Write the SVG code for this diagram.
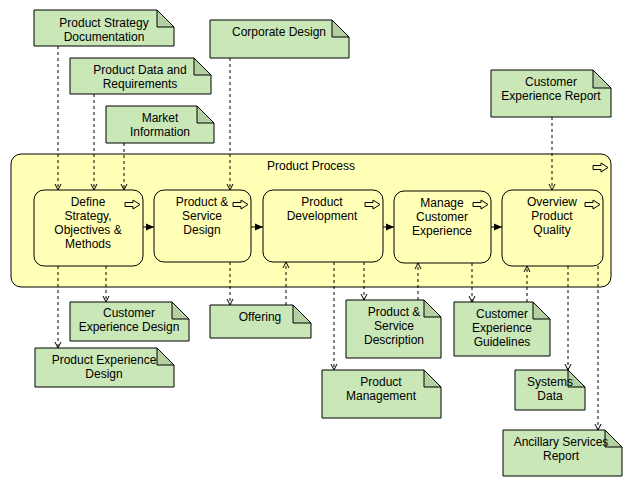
<svg xmlns="http://www.w3.org/2000/svg" xmlns:xlink="http://www.w3.org/1999/xlink" width="632" height="487" viewBox="0 0 632 487">
<style>
text{font-family:"Liberation Sans",Arial,sans-serif;font-size:12px;fill:#000;text-anchor:middle}
.note{fill:#c9e7b7;stroke:#000;stroke-width:1}
.fold{fill:#b4cfa2;stroke:#000;stroke-width:1}
.proc{fill:#ffffb5;stroke:#000;stroke-width:1}
.dash{fill:none;stroke:#000;stroke-width:1;stroke-dasharray:3,3;marker-end:url(#open)}
.flow{fill:none;stroke:#000;stroke-width:1;marker-end:url(#filled)}
.icon{fill:none;stroke:#000;stroke-width:1}
</style>
<defs>
<marker id="open" viewBox="0 0 8 8" refX="7" refY="4" markerWidth="8" markerHeight="8" markerUnits="userSpaceOnUse" orient="auto">
<path d="M1,1 L7,4 L1,7" fill="none" stroke="#000" stroke-width="1"/>
</marker>
<marker id="filled" viewBox="0 0 8 8" refX="8" refY="4" markerWidth="8" markerHeight="8" markerUnits="userSpaceOnUse" orient="auto">
<path d="M0,0.5 L8,4 L0,7.5 Z" fill="#000"/>
</marker>
<path id="picon" class="icon" d="M0,2.5 H8 V0 L15,4.5 L8,9 V6.5 H0 Z"/>
</defs>
<rect width="632" height="487" fill="#fff"/>

<g id="product-process">
<rect class="proc" x="11" y="154" width="600" height="133" rx="10"/>
<text x="311" y="170">Product Process</text>
<use xlink:href="#picon" x="593" y="163"/>
</g>

<g id="define-strategy">
<rect class="proc" x="34" y="190" width="109" height="76" rx="10"/>
<text x="88" y="206">Define</text>
<text x="88" y="220">Strategy,</text>
<text x="88" y="234">Objectives &amp;</text>
<text x="88" y="248">Methods</text>
<use xlink:href="#picon" x="125" y="200"/>
</g>
<g id="product-service-design">
<rect class="proc" x="154" y="190" width="97" height="72" rx="10"/>
<text x="202" y="206">Product &amp;</text>
<text x="202" y="220">Service</text>
<text x="202" y="234">Design</text>
<use xlink:href="#picon" x="233" y="200"/>
</g>
<g id="product-development">
<rect class="proc" x="263" y="190" width="120" height="72" rx="10"/>
<text x="322" y="206">Product</text>
<text x="322" y="220">Development</text>
<use xlink:href="#picon" x="365" y="200"/>
</g>
<g id="manage-customer-experience">
<rect class="proc" x="394" y="191" width="97" height="72" rx="10"/>
<text x="442" y="207">Manage</text>
<text x="442" y="221">Customer</text>
<text x="442" y="235">Experience</text>
<use xlink:href="#picon" x="473" y="200"/>
</g>
<g id="overview-product-quality">
<rect class="proc" x="502" y="190" width="101" height="76" rx="10"/>
<text x="552" y="206">Overview</text>
<text x="552" y="220">Product</text>
<text x="552" y="234">Quality</text>
<use xlink:href="#picon" x="585" y="200"/>
</g>

<g id="connectors">
<line class="dash" x1="58" y1="46" x2="58" y2="190"/>
<line class="dash" x1="94" y1="94" x2="94" y2="190"/>
<line class="dash" x1="124" y1="143" x2="124" y2="190"/>
<line class="dash" x1="230" y1="58" x2="230" y2="190"/>
<line class="dash" x1="552" y1="117" x2="552" y2="190"/>
<line class="dash" x1="58" y1="266" x2="58" y2="348"/>
<line class="dash" x1="106" y1="266" x2="106" y2="302"/>
<line class="dash" x1="230" y1="262" x2="230" y2="305"/>
<line class="dash" x1="286" y1="305" x2="286" y2="262"/>
<line class="dash" x1="334" y1="262" x2="334" y2="370"/>
<line class="dash" x1="364" y1="262" x2="364" y2="300"/>
<line class="dash" x1="418" y1="300" x2="418" y2="263"/>
<line class="dash" x1="472" y1="263" x2="472" y2="302"/>
<line class="dash" x1="527" y1="302" x2="527" y2="266"/>
<line class="dash" x1="568" y1="266" x2="568" y2="370"/>
<line class="dash" x1="598" y1="266" x2="598" y2="430"/>
<line class="flow" x1="143" y1="227" x2="154" y2="227"/>
<line class="flow" x1="251" y1="227" x2="263" y2="227"/>
<line class="flow" x1="383" y1="227" x2="394" y2="227"/>
<line class="flow" x1="491" y1="227" x2="502" y2="227"/>
</g>

<g id="product-strategy-documentation">
<path class="note" d="M34,10 H157 L174,27 V46 H34 Z"/>
<path class="fold" d="M157,10 V27 H174 Z"/>
<text x="104" y="27">Product Strategy</text>
<text x="104" y="41">Documentation</text>
</g>
<g id="corporate-design">
<path class="note" d="M210,20 H332 L349,37 V58 H210 Z"/>
<path class="fold" d="M332,20 V37 H349 Z"/>
<text x="279" y="36">Corporate Design</text>
</g>
<g id="product-data-requirements">
<path class="note" d="M70,58 H194 L211,75 V94 H70 Z"/>
<path class="fold" d="M194,58 V75 H211 Z"/>
<text x="140" y="74">Product Data and</text>
<text x="140" y="88">Requirements</text>
</g>
<g id="market-information">
<path class="note" d="M106,106 H197 L214,123 V143 H106 Z"/>
<path class="fold" d="M197,106 V123 H214 Z"/>
<text x="160" y="122">Market</text>
<text x="160" y="136">Information</text>
</g>
<g id="customer-experience-report">
<path class="note" d="M491,70 H593 L611,88 V117 H491 Z"/>
<path class="fold" d="M593,70 V88 H611 Z"/>
<text x="551" y="86">Customer</text>
<text x="551" y="100">Experience Report</text>
</g>
<g id="customer-experience-design">
<path class="note" d="M70,302 H172 L189,319 V341 H70 Z"/>
<path class="fold" d="M172,302 V319 H189 Z"/>
<text x="129" y="317">Customer</text>
<text x="129" y="331">Experience Design</text>
</g>
<g id="product-experience-design">
<path class="note" d="M35,348 H157 L174,365 V387 H35 Z"/>
<path class="fold" d="M157,348 V365 H174 Z"/>
<text x="104" y="364">Product Experience</text>
<text x="104" y="378">Design</text>
</g>
<g id="offering">
<path class="note" d="M210,305 H293 L311,323 V338 H210 Z"/>
<path class="fold" d="M293,305 V323 H311 Z"/>
<text x="260" y="321">Offering</text>
</g>
<g id="product-service-description">
<path class="note" d="M346,300 H424 L441,317 V358 H346 Z"/>
<path class="fold" d="M424,300 V317 H441 Z"/>
<text x="394" y="316">Product &amp;</text>
<text x="394" y="330">Service</text>
<text x="394" y="344">Description</text>
</g>
<g id="product-management">
<path class="note" d="M322,370 H424 L441,387 V418 H322 Z"/>
<path class="fold" d="M424,370 V387 H441 Z"/>
<text x="381" y="386">Product</text>
<text x="381" y="400">Management</text>
</g>
<g id="customer-experience-guidelines">
<path class="note" d="M454,302 H533 L550,319 V356 H454 Z"/>
<path class="fold" d="M533,302 V319 H550 Z"/>
<text x="502" y="318">Customer</text>
<text x="502" y="332">Experience</text>
<text x="502" y="346">Guidelines</text>
</g>
<g id="systems-data">
<path class="note" d="M515,370 H568 L585,387 V410 H515 Z"/>
<path class="fold" d="M568,370 V387 H585 Z"/>
<text x="550" y="386">Systems</text>
<text x="550" y="400">Data</text>
</g>
<g id="ancillary-services-report">
<path class="note" d="M503,430 H605 L622,447 V476 H503 Z"/>
<path class="fold" d="M605,430 V447 H622 Z"/>
<text x="561" y="446">Ancillary Services</text>
<text x="561" y="460">Report</text>
</g>
</svg>
